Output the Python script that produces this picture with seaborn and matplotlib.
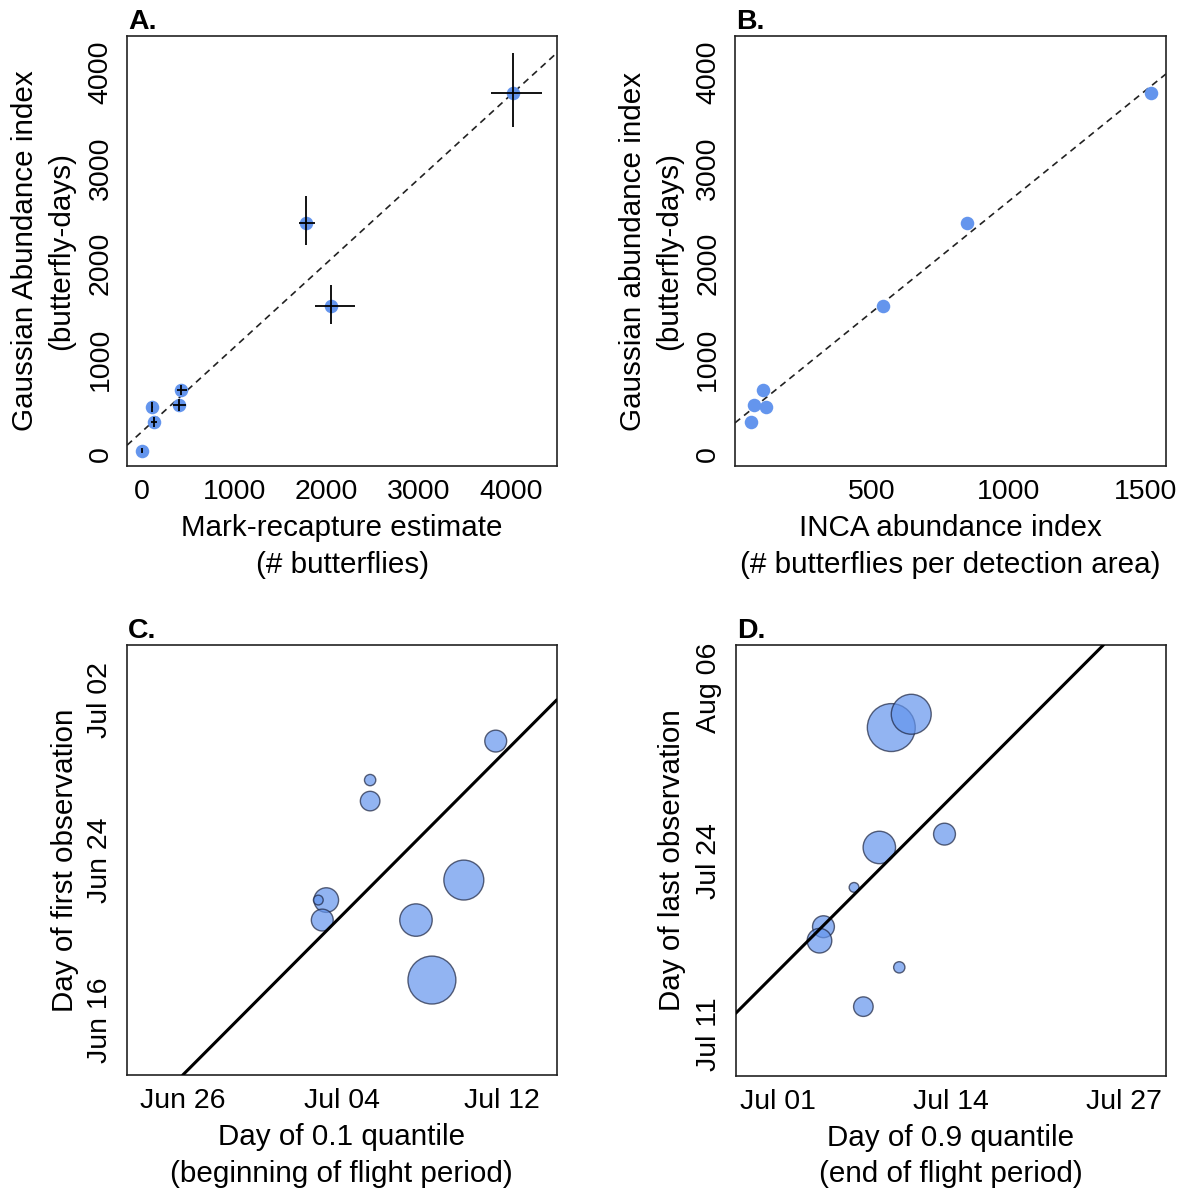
import numpy as np
import pandas as pd
import seaborn as sns
import matplotlib
matplotlib.use('Agg')
import matplotlib.pyplot as plt

# ---- panels A/B: abundance per site ----
mark_recapture = [4022, 1775, 2052, 429, 407, 115, 130, 6]
mr_err_lo = [245, 72, 177, 50, 70, 10, 30, 5]
mr_err_hi = [307, 101, 256, 55, 70, 10, 30, 5]
gauss_abund = [3786, 2425, 1553, 673, 518, 498, 341, 38]
ga_err_lo = [356, 234, 188, 50, 60, 50, 55, 25]
ga_err_hi = [419, 279, 220, 55, 60, 50, 55, 25]
inca_index = [1521, 850, 543, 104, 73, 116, 60, np.nan]

fit_a = (237, 0.883)   # intercept, slope
fit_b = (325, 2.321)

# ---- panels C/D: phenology per site (day of year) ----
q10_day = [192.7, 186.4, 186.4, 184.2, 183.8, 184.0, 188.7, 191.1, 189.5]
first_obs_day = [180.95, 179.0, 177.95, 173.0, 173.0, 172.0, 172.0, 174.0, 169.0]
n_c = [30, 8, 24, 38, 6, 30, 66, 100, 144]

q90_day = [190.5, 192.0, 189.6, 194.5, 187.7, 185.4, 185.1, 191.1, 188.4]
last_obs_day = [215.0, 216.0, 206.0, 207.0, 203.0, 200.05, 199.0, 197.0, 194.05]
n_d = [144, 100, 66, 30, 6, 30, 38, 8, 24]

fit_c = (-12.75, 1.0)
fit_d = (14.75, 1.0)

# tick labels
c_xticks, c_xlabels = [177, 185, 193], ['Jun 26', 'Jul 04', 'Jul 12']
c_yticks, c_ylabels = [167, 175, 183], ['Jun 16', 'Jun 24', 'Jul 02']
d_xticks, d_xlabels = [182, 195, 208], ['Jul 01', 'Jul 14', 'Jul 27']
d_yticks, d_ylabels = [192, 205, 218], ['Jul 11', 'Jul 24', 'Aug 06']

df_ab = pd.DataFrame({'mr': mark_recapture, 'ga': gauss_abund, 'inca': inca_index})
df_c = pd.DataFrame({'x': q10_day, 'y': first_obs_day, 'n': n_c})
df_d = pd.DataFrame({'x': q90_day, 'y': last_obs_day, 'n': n_d})

sns.set_theme(style='white')
plt.rcParams['font.family'] = ['Liberation Sans', 'DejaVu Sans']
plt.rcParams['text.color'] = 'black'
plt.rcParams['axes.labelcolor'] = 'black'
FS = 20.5
LFS = 21.3
BLUE = 'cornflowerblue'

fig = plt.figure(figsize=(11.82, 11.90), dpi=100)
ax_a = fig.add_axes([0.1075, 0.6084, 0.3638, 0.3613])
ax_b = fig.add_axes([0.6218, 0.6084, 0.3646, 0.3613])
ax_c = fig.add_axes([0.1072, 0.0966, 0.3638, 0.3613])
ax_d = fig.add_axes([0.6224, 0.0961, 0.3638, 0.3619])


def style_axes(ax, letter, xlabel, ylabel, ylab_x):
    for sp in ax.spines.values():
        sp.set_color('#222222')
        sp.set_linewidth(1.2)
    ax.tick_params(axis='both', direction='out', length=5.8, width=1,
                   color='#333333', labelsize=FS, labelcolor='black')
    ax.tick_params(axis='x', pad=3.5)
    ax.tick_params(axis='y', pad=4, labelrotation=90)
    for lbl in ax.get_yticklabels():
        lbl.set_va('center')
    ax.set_xlabel(xlabel, fontsize=LFS, linespacing=1.38)
    ax.set_ylabel(ylabel, fontsize=LFS, linespacing=1.38)
    ax.xaxis.set_label_coords(0.5, -0.112)
    ax.yaxis.set_label_coords(ylab_x, 0.5)
    ax.text(0.003, 1.016, letter, transform=ax.transAxes, fontsize=FS,
            fontweight='bold', ha='left', va='baseline')


# A
sns.scatterplot(data=df_ab, x='mr', y='ga', ax=ax_a, color=BLUE, s=95,
                linewidth=0, zorder=2)
ax_a.errorbar(mark_recapture, gauss_abund, xerr=[mr_err_lo, mr_err_hi],
              yerr=[ga_err_lo, ga_err_hi], fmt='none', ecolor='black',
              elinewidth=1.3, capsize=0, zorder=3)
ax_a.axline((0, fit_a[0]), slope=fit_a[1], color='#222222', lw=1.2,
            ls=(0, (4, 3)), zorder=1)
ax_a.set_xlim(-160, 4495)
ax_a.set_ylim(-122, 4380)
ax_a.set_xticks([0, 1000, 2000, 3000, 4000])
ax_a.set_yticks([0, 1000, 2000, 3000, 4000])
style_axes(ax_a, 'A.', 'Mark-recapture estimate\n(# butterflies)',
           'Gaussian Abundance index\n(butterfly-days)', -0.12)

# B
sns.scatterplot(data=df_ab, x='inca', y='ga', ax=ax_b, color=BLUE, s=95,
                linewidth=0, zorder=2)
ax_b.axline((0, fit_b[0]), slope=fit_b[1], color='#222222', lw=1.2,
            ls=(0, (4, 3)), zorder=1)
ax_b.set_xlim(2, 1576)
ax_b.set_ylim(-122, 4380)
ax_b.set_xticks([500, 1000, 1500])
ax_b.set_yticks([0, 1000, 2000, 3000, 4000])
style_axes(ax_b, 'B.', 'INCA abundance index\n(# butterflies per detection area)',
           'Gaussian abundance index\n(butterfly-days)', -0.12)

# C
sns.scatterplot(data=df_c, x='x', y='y', size='n', sizes=(0, 1190),
                size_norm=(0, 144), ax=ax_c, color=BLUE, alpha=0.7,
                edgecolor='#1c2440', linewidth=1.0, legend=False, zorder=2)
ax_c.axline((0, fit_c[0]), slope=fit_c[1], color='black', lw=2.2, zorder=3)
ax_c.set_xlim(174.19, 195.76)
ax_c.set_ylim(164.25, 185.75)
ax_c.set_xticks(c_xticks, c_xlabels)
ax_c.set_yticks(c_yticks, c_ylabels)
style_axes(ax_c, 'C.', 'Day of 0.1 quantile\n(beginning of flight period)',
           'Day of first observation', -0.111)

# D
sns.scatterplot(data=df_d, x='x', y='y', size='n', sizes=(0, 1190),
                size_norm=(0, 144), ax=ax_d, color=BLUE, alpha=0.7,
                edgecolor='#1c2440', linewidth=1.0, legend=False, zorder=2)
ax_d.axline((0, fit_d[0]), slope=fit_d[1], color='black', lw=2.2, zorder=3)
ax_d.set_xlim(178.8, 211.13)
ax_d.set_ylim(188.87, 221.2)
ax_d.set_xticks(d_xticks, d_xlabels)
ax_d.set_yticks(d_yticks, d_ylabels)
style_axes(ax_d, 'D.', 'Day of 0.9 quantile\n(end of flight period)',
           'Day of last observation', -0.1155)

fig.savefig('out.png', dpi=100, facecolor='white')
